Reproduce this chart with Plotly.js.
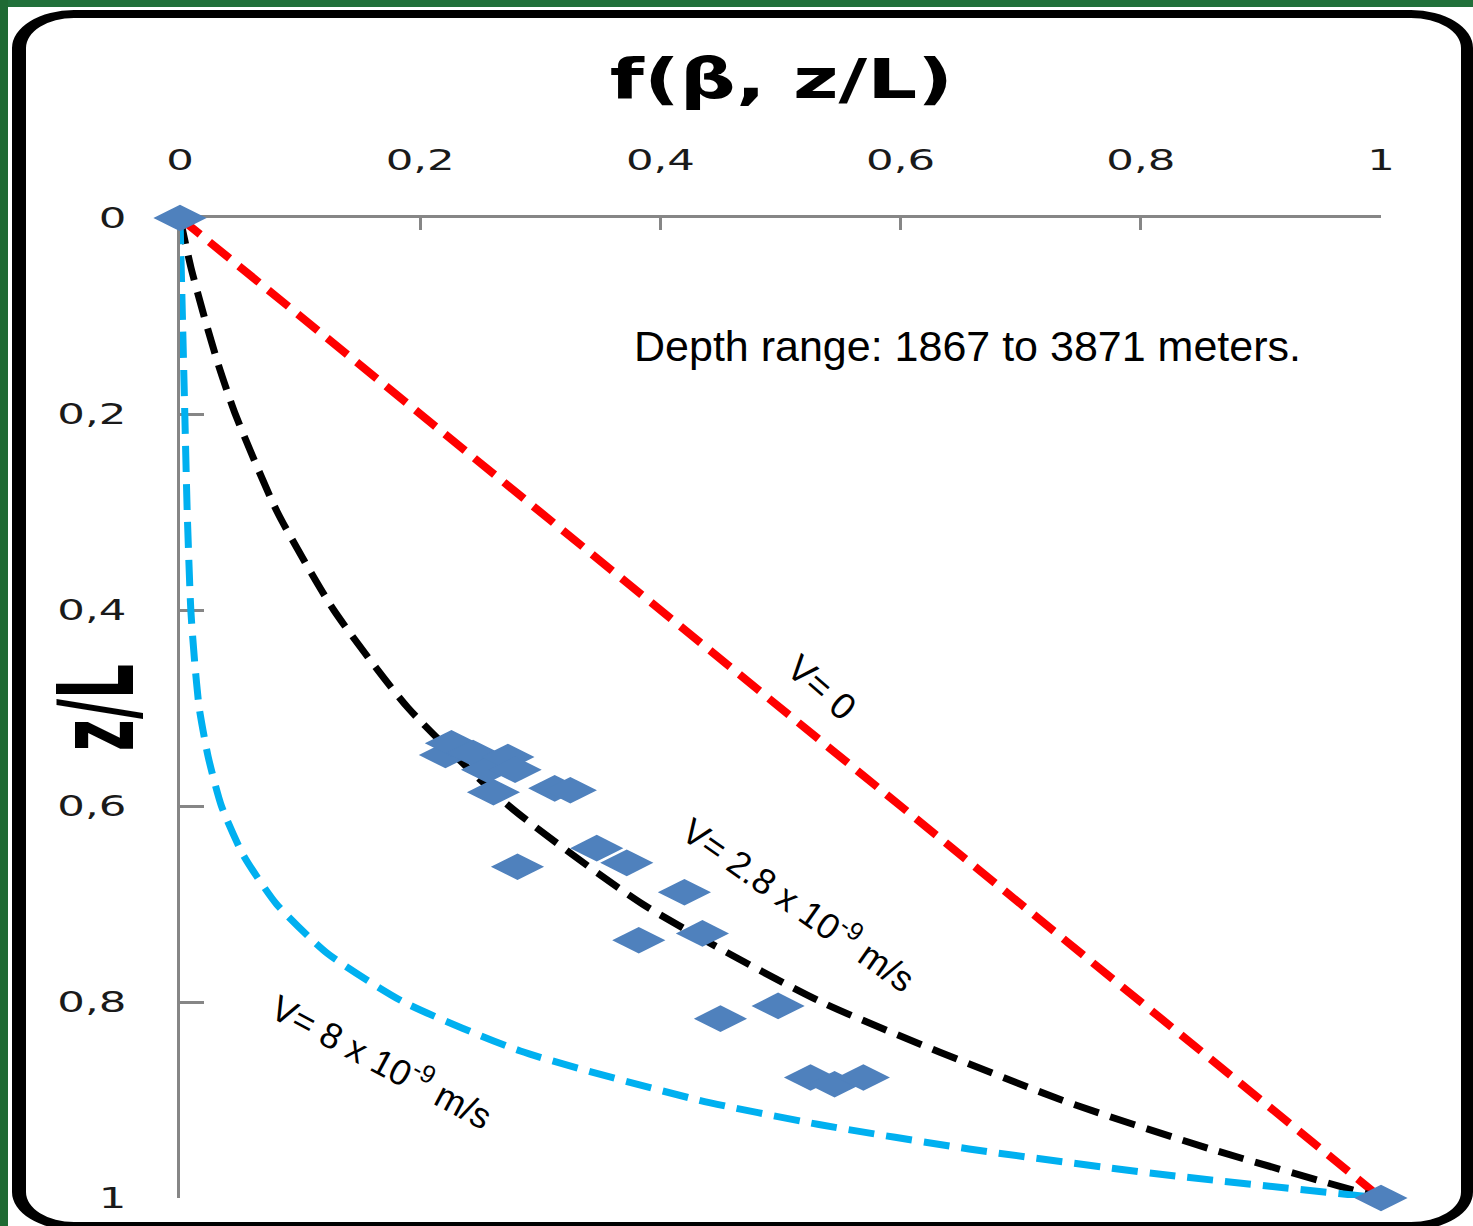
<!DOCTYPE html>
<html>
<head>
<meta charset="utf-8">
<script src="https://cdn.plot.ly/plotly-3.0.1.min.js"></script>
<style>
  html, body { margin: 0; padding: 0; background: #ffffff; width: 1473px; height: 1226px; overflow: hidden; }
  #greenTop { position: absolute; left: 0; top: 0; width: 1473px; height: 7px; background: #21703a; }
  #greenLeft { position: absolute; left: 0; top: 0; width: 8px; height: 1226px; background: #1f6a33; }
  #frame { position: absolute; left: 12px; top: 10px; width: 1461px; height: 1220px;
           border-style: solid; border-color: #000; border-width: 8px 12px 8px 14px;
           border-radius: 62px / 38px; box-sizing: border-box; }
  #chart { position: absolute; left: 0; top: 0; width: 1473px; height: 1226px; }
</style>
</head>
<body>
<div id="greenTop"></div>
<div id="greenLeft"></div>
<div id="frame"></div>
<div id="chart"></div>
<script>
// z/L depth levels and f(beta, z/L) values
const redZ = [0, 1];
const redF = [0, 1];

const blackZ = [0, 0.05, 0.1, 0.15, 0.2, 0.3, 0.4, 0.5, 0.6, 0.7, 0.8, 0.9, 0.95, 1];
const blackF = [0, 0.009, 0.020, 0.032, 0.046, 0.081, 0.128, 0.190, 0.274, 0.385, 0.534, 0.734, 0.858, 1];

const blueZ = [0, 0.1, 0.2, 0.3, 0.4, 0.45, 0.5, 0.55, 0.6, 0.65, 0.7, 0.75, 0.8, 0.85, 0.9, 0.925, 0.95, 0.975, 1];
const blueF = [0, 0.002, 0.004, 0.006, 0.009, 0.012, 0.016, 0.0235, 0.0345, 0.0527, 0.0803, 0.1223, 0.1862, 0.2834, 0.4315, 0.532, 0.657, 0.811, 1];

// measured data points (f, z/L)
const obsF = [0, 0.221, 0.226, 0.244, 0.256, 0.273, 0.279, 0.261, 0.312, 0.325,
              0.281, 0.347, 0.372, 0.420, 0.382, 0.435, 0.450, 0.498, 0.525, 0.545, 0.569, 1.0];
const obsZ = [0, 0.548, 0.536, 0.546, 0.563, 0.550, 0.563, 0.586, 0.582, 0.584,
              0.662, 0.643, 0.658, 0.688, 0.737, 0.730, 0.817, 0.804, 0.877, 0.884, 0.877, 1.0];

const xTicks = [0, 0.2, 0.4, 0.6, 0.8, 1];
const xTickText = ['0', '0,2', '0,4', '0,6', '0,8', '1'];
const yTicks = [0, 0.2, 0.4, 0.6, 0.8, 1];
const yTickText = ['0', '0,2', '0,4', '0,6', '0,8', '1'];

const dashPat = '26px,12px';

const traces = [
  { x: redF, y: redZ, type: 'scatter', mode: 'lines', name: 'V= 0',
    line: { color: '#ff0000', width: 8, dash: dashPat }, cliponaxis: false },
  { x: blackF, y: blackZ, type: 'scatter', mode: 'lines', name: 'V= 2.8e-9',
    line: { color: '#000000', width: 7, dash: dashPat, shape: 'spline', smoothing: 0.6 }, cliponaxis: false },
  { x: blueF, y: blueZ, type: 'scatter', mode: 'lines', name: 'V= 8e-9',
    line: { color: '#00b0f0', width: 7, dash: dashPat, shape: 'spline', smoothing: 0.6 }, cliponaxis: false },
  { x: obsF, y: obsZ, type: 'scatter', mode: 'markers', name: 'data',
    marker: { symbol: 'diamond-wide', size: 38, color: '#4f81bd' }, cliponaxis: false }
];

const tickFont = { family: 'DejaVu Sans, Verdana, sans-serif', size: 28, color: '#1a1a1a' };
const lblFont = { family: 'Liberation Sans, Arial, sans-serif', size: 36, color: '#000' };

const layout = {
  width: 1473, height: 1226,
  paper_bgcolor: 'rgba(0,0,0,0)', plot_bgcolor: 'rgba(0,0,0,0)',
  margin: { l: 180, r: 92, t: 218, b: 28 },
  showlegend: false,
  title: { text: '<b>f(β, z/L)</b>', x: 0.5305, xanchor: 'center', y: 0.936, yanchor: 'middle', yref: 'container',
           font: { family: 'DejaVu Sans, sans-serif', size: 56, color: '#000' } },
  xaxis: { side: 'top', range: [0, 1], tickvals: xTicks, ticktext: xTickText,
           ticks: 'inside', ticklen: 12, tickwidth: 3, tickcolor: '#868686',
           showline: true, linecolor: '#868686', linewidth: 3, showgrid: false, zeroline: false,
           layer: 'below traces', tickfont: tickFont, ticklabelstandoff: 34 },
  yaxis: { range: [1, 0], tickvals: yTicks, ticktext: yTickText,
           ticks: 'inside', ticklen: 24, tickwidth: 3, tickcolor: '#868686',
           showline: true, linecolor: '#868686', linewidth: 3, showgrid: false, zeroline: false,
           layer: 'below traces', tickfont: tickFont, ticklabelstandoff: 45 },
  annotations: [
    { text: 'Depth range: 1867 to 3871 meters.', xref: 'x', yref: 'y', x: 0.656, y: 0.131,
      showarrow: false, xanchor: 'center', yanchor: 'middle',
      font: { family: 'Liberation Sans, Arial, sans-serif', size: 43, color: '#000' } },
    { text: 'V= 0', xref: 'x', yref: 'y', x: 0.534, y: 0.479, textangle: 41,
      showarrow: false, font: Object.assign({}, lblFont, { size: 37 }) },
    { text: 'V= 2.8 x 10<sup>-9</sup> m/s', xref: 'x', yref: 'y', x: 0.516, y: 0.699, textangle: 35,
      showarrow: false, font: lblFont },
    { text: 'V= 8 x 10<sup>-9</sup> m/s', xref: 'x', yref: 'y', x: 0.169, y: 0.859, textangle: 28,
      showarrow: false, font: lblFont },
    { text: '<b>z/L</b>', xref: 'paper', yref: 'paper', x: -0.069, y: 0.5, textangle: -90,
      showarrow: false, xanchor: 'center', yanchor: 'middle',
      font: { family: 'DejaVu Sans, sans-serif', size: 55, color: '#000' } }
  ]
};

// widen glyphs horizontally, as in the reference (idempotent)
function widen(el, s) {
  const tr = el.getAttribute('transform') || '';
  if (tr.indexOf('scale(') !== -1) return;
  const x = parseFloat(el.getAttribute('x')) || 0;
  el.setAttribute('transform', tr + ' translate(' + x + ',0) scale(' + s + ',1) translate(' + (-x) + ',0)');
}
function widenGroup(g, s) {
  const tr = g.getAttribute('transform') || '';
  if (tr.indexOf('scale(') !== -1) return;
  const bb = g.getBBox();
  const cx = bb.x + bb.width / 2;
  g.setAttribute('transform', tr + ' translate(' + cx + ',0) scale(' + s + ',1) translate(' + (-cx) + ',0)');
}
function adjust() {
  const gd = document.getElementById('chart');
  gd.querySelectorAll('.xtick text').forEach(t => widen(t, 1.55));
  gd.querySelectorAll('.ytick text').forEach(t => widen(t, 1.55));
  const ttl = gd.querySelector('.gtitle');
  if (ttl) widen(ttl, 1.4);
  const anns = gd.querySelectorAll('.annotation');
  if (anns.length > 4) widenGroup(anns[4], 1.9);
}

Plotly.newPlot('chart', traces, layout, { displayModeBar: false, staticPlot: true }).then(() => {
  adjust();
  setTimeout(adjust, 200);
  setTimeout(adjust, 800);
});
</script>
</body>
</html>
